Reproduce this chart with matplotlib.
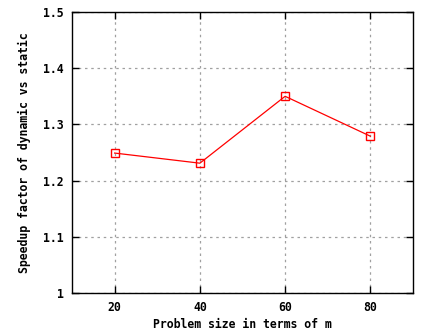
import matplotlib
matplotlib.use("Agg")
import matplotlib.pyplot as plt

sizes = [20, 40, 60, 80]
speedup = [1.249, 1.231, 1.350, 1.279]
xticks = [20, 40, 60, 80]
yticks = [1.0, 1.1, 1.2, 1.3, 1.4, 1.5]
ytick_labels = ["1", "1.1", "1.2", "1.3", "1.4", "1.5"]

plt.rcParams['font.family'] = ['DejaVu Sans Mono']
plt.rcParams['font.weight'] = 'bold'

fig = plt.figure(figsize=(4.47, 3.35), dpi=100)
ax = fig.add_axes([72/447, 1-293/335, (413-72)/447, (293-12)/335])
ax.plot(sizes, speedup, color='#ff0000', lw=0.9, marker='s', ms=6.3,
        mfc='none', mec='#ff0000', mew=1.0)
ax.set_xlim(10, 90)
ax.set_ylim(1.0, 1.5)
ax.set_xticks(xticks)
ax.set_yticks(yticks)
ax.set_yticklabels(ytick_labels)
ax.tick_params(direction='in', length=5, width=1, top=True, right=True,
               labelsize=8.3, pad=6)
ax.grid(True, color='#a0a0a0', linestyle=(0, (2, 3)), lw=0.9)
for s in ax.spines.values():
    s.set_linewidth(1.0)
ax.set_xlabel("Problem size in terms of m", fontsize=8.3, fontweight='bold', labelpad=3)
ax.set_ylabel("Speedup factor of dynamic vs static", fontsize=8.3, fontweight='bold', labelpad=9)
fig.savefig("out.png", dpi=100)
